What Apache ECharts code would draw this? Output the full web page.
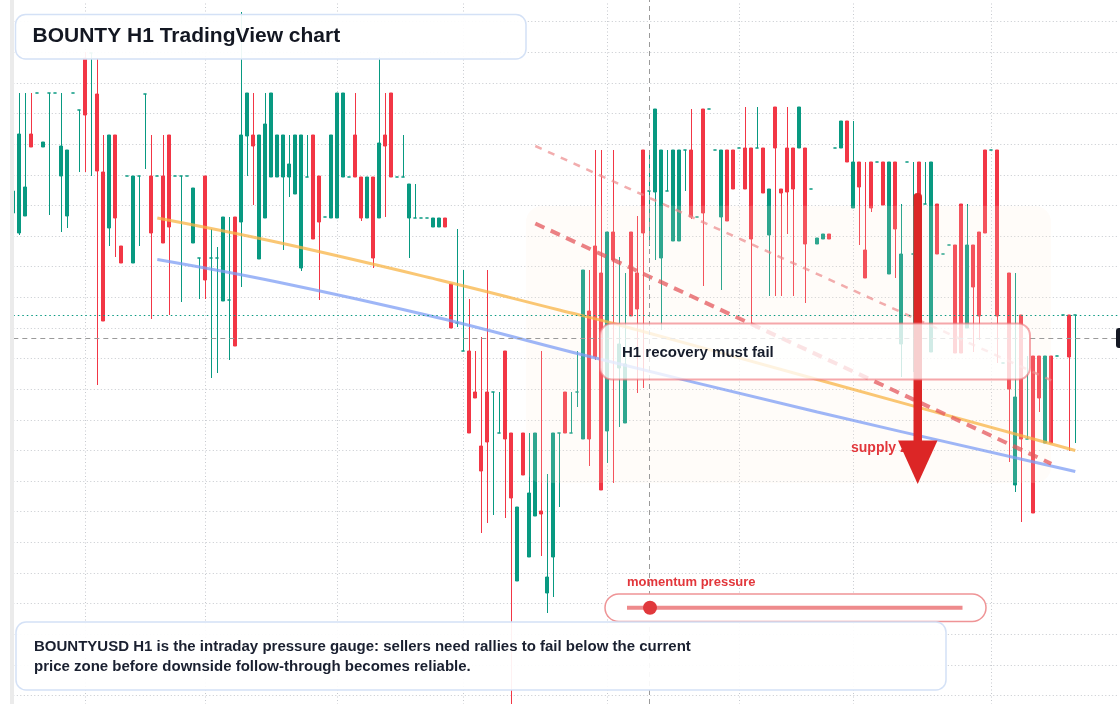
<!DOCTYPE html>
<html>
<head>
<meta charset="utf-8">
<title>BOUNTY H1</title>
<script src="https://cdn.jsdelivr.net/npm/echarts@6/dist/echarts.min.js"></script>
<style>
  html, body { margin: 0; padding: 0; background: #fff; }
  #main { width: 1120px; height: 704px; }
</style>
</head>
<body>
<div id="main"></div>
<script>
// H1 candles (open / close / low / high)
var openV = [
  513, 493, 510, 592, 633, 579, 633, 633, 550, 510,
  633, 616, 668, 673, 632, 554, 498, 591, 480, 550,
  463, 550, 632, 550, 550, 550, 591, 550, 550, 550,
  483, 468, 550, 468, 468, 425, 426, 509, 504, 590,
  591, 467, 508, 549, 549, 549, 549, 532, 458, 549,
  591, 550, 509, 508, 508, 549, 549, 591, 549, 508,
  549, 508, 591, 633, 549, 549, 508, 508, 508, 508,
  499, 499, 508, 442, 403, 375, 375, 334, 280, 334,
  334, 293, 375, 293, 145, 293, 169, 210, 215, 133,
  169, 293, 334, 293, 334, 287, 415, 480, 453, 295,
  494, 358, 303, 494, 453, 576, 535, 534, 468, 535,
  485, 485, 576, 576, 509, 617, 617, 576, 509, 576,
  576, 578, 578, 578, 578, 578, 491, 619, 537, 578,
  578, 578, 578, 537, 482, 487, 492, 578, 578, 605,
  518, 564, 476, 564, 564, 564, 452, 564, 382, 564,
  472, 564, 522, 374, 522, 472, 481, 481, 522, 398,
  481, 494, 576, 576, 576, 363, 453, 241, 411, 287,
  370, 370, 283, 370, 370, 411, 411, 411
];
var closeV = [
  535, 592, 539, 579, 633, 584, 633, 633, 580, 576,
  633, 616, 611, 673, 555, 405, 591, 508, 463, 550,
  550, 550, 632, 493, 550, 483, 499, 550, 550, 550,
  538, 468, 446, 468, 468, 509, 426, 380, 591, 633,
  580, 591, 602, 633, 591, 591, 562, 591, 591, 549,
  487, 504, 509, 591, 633, 633, 549, 549, 508, 549,
  468, 583, 580, 549, 549, 549, 542, 508, 508, 508,
  508, 508, 499, 398, 403, 375, 293, 328, 255, 284,
  334, 293, 287, 228, 219, 251, 233, 293, 212, 149,
  293, 293, 293, 293, 334, 456, 287, 369, 236, 494,
  466, 382, 362, 410, 417, 493, 535, 617, 576, 535,
  576, 576, 576, 509, 509, 513, 617, 576, 576, 505,
  537, 578, 537, 487, 578, 533, 537, 578, 533, 534,
  537, 619, 482, 537, 488, 492, 487, 578, 605, 564,
  564, 539, 448, 518, 564, 521, 564, 497, 472, 564,
  472, 472, 522, 564, 472, 472, 481, 373, 373, 481,
  439, 410, 493, 576, 410, 363, 337, 329, 287, 287,
  213, 328, 370, 283, 370, 411, 369, 411
];
var lowV = [
  513, 491, 510, 579, 633, 579, 511, 633, 494, 498,
  633, 554, 554, 550, 341, 405, 480, 469, 463, 550,
  463, 480, 557, 407, 550, 483, 411, 550, 424, 550,
  483, 427, 427, 348, 353, 425, 366, 380, 439, 550,
  521, 467, 508, 549, 549, 476, 529, 532, 455, 549,
  487, 426, 509, 508, 508, 549, 549, 549, 505, 508,
  458, 508, 509, 549, 549, 549, 468, 508, 508, 508,
  499, 499, 499, 398, 399, 375, 293, 328, 193, 203,
  211, 293, 208, 22, 145, 251, 169, 210, 170, 113,
  129, 219, 293, 293, 319, 287, 260, 366, 236, 263,
  243, 299, 303, 410, 333, 338, 480, 466, 396, 535,
  485, 485, 535, 507, 509, 440, 617, 576, 436, 505,
  537, 578, 537, 402, 578, 533, 430, 430, 430, 492,
  430, 578, 423, 537, 482, 487, 487, 578, 578, 564,
  518, 481, 448, 514, 564, 521, 452, 448, 349, 564,
  354, 472, 522, 374, 472, 472, 481, 373, 373, 398,
  374, 386, 493, 576, 363, 363, 264, 234, 204, 287,
  213, 314, 283, 283, 370, 411, 275, 283
];
var highV = [
  535, 633, 633, 633, 633, 584, 633, 633, 633, 576,
  633, 616, 674, 673, 668, 591, 591, 591, 480, 550,
  550, 550, 632, 591, 550, 591, 591, 550, 550, 550,
  538, 468, 550, 497, 479, 509, 509, 509, 714, 633,
  633, 591, 633, 633, 591, 591, 591, 591, 591, 591,
  591, 550, 509, 591, 633, 633, 549, 633, 549, 549,
  549, 669, 633, 633, 549, 591, 542, 542, 508, 508,
  508, 508, 508, 442, 497, 456, 427, 375, 389, 456,
  334, 334, 375, 293, 219, 293, 293, 293, 375, 252,
  293, 293, 334, 334, 375, 456, 456, 576, 576, 494,
  576, 469, 453, 494, 510, 576, 576, 617, 576, 576,
  576, 576, 576, 617, 509, 617, 617, 576, 576, 576,
  576, 578, 619, 578, 619, 578, 537, 619, 537, 619,
  578, 619, 578, 537, 488, 492, 492, 578, 605, 605,
  605, 564, 564, 564, 564, 564, 564, 564, 522, 564,
  564, 564, 564, 564, 522, 472, 481, 481, 522, 522,
  481, 494, 576, 576, 576, 363, 453, 453, 411, 370,
  370, 370, 370, 370, 370, 411, 411, 411
];

// bar slots (incl. empty right margin) and session separators
var slotCount = 185;
var sessionBreaks = [12, 32, 54, 75, 99, 121, 140, 163];

// drawn trend lines: [bar index, price]
var upperTrend = [[24, 508], [44, 483.7], [71, 446], [91, 416], [101, 401], [134, 346.5], [177, 275.5]];
var lowerTrend = [[24, 466.5], [44, 444], [71, 408], [93, 374], [134, 314], [177, 254.5]];
var supplyLine = [[87, 502.5], [173, 262.3]];
var supplyLineFaint = [[87, 580], [173, 345.7]];

var crossBar = 106;
var crossPrice = 387.7;
var lastPrice = 411;

var up = "#089981";
var down = "#f23645";

var categories = [];
for (var i = 0; i < slotCount; i++) categories.push(String(i));

var candleData = openV.map(function (o, i) {
  var item = { value: [o, closeV[i], lowV[i], highV[i]] };
  if (o === closeV[i]) {
    item.itemStyle = { borderColor: up, borderColor0: up, color: up, color0: up };
  }
  return item;
});

var font = '"Liberation Sans", Arial, Helvetica, sans-serif';
var gridDots = { color: "#c6c9ce", type: [1, 2.5], width: 1 };

var myChart = echarts.init(document.getElementById("main"), null, { renderer: "canvas" });

var option = {
  animation: false,
  backgroundColor: "#ffffff",
  grid: [
    { left: 13.3, right: 2.7, top: 0, bottom: 8.62 },
    // full-height grid only for the session separators and crosshair
    { left: 13.3, right: 2.7, top: 0, bottom: 0 },
  ],
  xAxis: [
    {
      type: "category",
      gridIndex: 0,
      data: categories,
      boundaryGap: false,
      axisLine: { show: false },
      axisTick: { show: false },
      axisLabel: { show: false },
      splitLine: { show: false },
    },
    {
      type: "category",
      gridIndex: 1,
      data: categories,
      boundaryGap: false,
      axisLine: { show: false },
      axisTick: { show: false },
      axisLabel: { show: false },
      splitLine: {
        show: true,
        interval: function (idx) {
          return sessionBreaks.indexOf(idx) >= 0;
        },
        lineStyle: gridDots,
      },
    },
  ],
  yAxis: [
    {
      type: "value",
      gridIndex: 0,
      position: "right",
      min: 30.62,
      max: 726,
      interval: 30.62,
      axisLine: { show: false },
      axisTick: { show: false },
      axisLabel: { show: false },
      splitLine: { lineStyle: gridDots },
    },
    {
      type: "value",
      gridIndex: 1,
      min: 0,
      max: 1,
      show: false,
      splitLine: { show: false },
    },
  ],
  series: [
    {
      name: "crosshair",
      type: "scatter",
      xAxisIndex: 1,
      yAxisIndex: 1,
      z: 2,
      symbolSize: 0,
      silent: true,
      data: [[crossBar, 0]],
      markLine: {
        silent: true,
        symbol: "none",
        label: { show: false },
        data: [{ xAxis: crossBar }],
        lineStyle: { color: "#9a9a9a", type: [5, 4], width: 1 },
      },
    },
    {
      name: "BOUNTYUSD",
      type: "candlestick",
      z: 2,
      clip: false,
      barWidth: 3.6,
      data: candleData,
      itemStyle: {
        color: up,
        color0: down,
        borderColor: up,
        borderColor0: down,
        borderColorDoji: up,
        borderWidth: 1,
      },
      markLine: {
        silent: true,
        symbol: "none",
        label: { show: false },
        data: [
          { yAxis: crossPrice, lineStyle: { color: "#9a9a9a", type: [5, 4], width: 1 } },
          { yAxis: lastPrice, lineStyle: { color: up, type: [1.5, 3], width: 1.2 } },
        ],
      },
    },
    {
      name: "upper trend",
      type: "line",
      z: 4,
      data: upperTrend,
      smooth: 0.4,
      symbol: "none",
      silent: true,
      lineStyle: { color: "#f8b445", width: 3, opacity: 0.75 },
    },
    {
      name: "lower trend",
      type: "line",
      z: 4,
      data: lowerTrend,
      smooth: 0.4,
      symbol: "none",
      silent: true,
      lineStyle: { color: "#7e9ef4", width: 3, opacity: 0.75 },
    },
    {
      name: "supply faint",
      type: "line",
      z: 4,
      data: supplyLineFaint,
      symbol: "none",
      silent: true,
      lineStyle: { color: "#ec8a8c", width: 2.5, type: [7, 7], opacity: 0.7 },
    },
    {
      name: "supply",
      type: "line",
      z: 4,
      data: supplyLine,
      symbol: "none",
      silent: true,
      lineStyle: { color: "#e4585c", width: 4, type: [10, 7], opacity: 0.75 },
    },
  ],
  graphic: [
    // left edge strip
    { type: "rect", z: 20, shape: { x: 0, y: 0, width: 10, height: 704 }, style: { fill: "#ffffff" } },
    { type: "rect", z: 20, shape: { x: 10, y: 0, width: 4, height: 704 }, style: { fill: "#ebebeb" } },
    // top edge (hides the max tick line)
    { type: "rect", z: 1, shape: { x: 14, y: 0, width: 1106, height: 1.5 }, style: { fill: "#ffffff" } },
    // crosshair price tag on the right
    { type: "rect", z: 20, shape: { x: 1116, y: 328, width: 12, height: 20, r: 3 }, style: { fill: "#131722" } },
    // soft zone overlay
    {
      type: "rect", z: 3,
      shape: { x: 526, y: 206, width: 525, height: 277, r: 16 },
      style: { fill: "rgba(255,236,218,0.16)" },
    },
    // supply zone label + arrow
    {
      type: "text", z: 6,
      style: { text: "supply zone", x: 851, y: 448, fill: "#e2363b", font: "bold 14px " + font, verticalAlign: "middle" },
    },
    {
      type: "rect", z: 7,
      shape: { x: 913.5, y: 193, width: 8.5, height: 250, r: [4, 4, 0, 0] },
      style: { fill: "#dc2626" },
    },
    {
      type: "polygon", z: 7,
      shape: { points: [[898, 440.5], [937.5, 440.5], [917.7, 484]] },
      style: { fill: "#dc2626" },
    },
    // annotation box
    {
      type: "rect", z: 8,
      shape: { x: 600, y: 323.5, width: 430, height: 56, r: 12 },
      style: { fill: "rgba(255,255,255,0.78)", stroke: "rgba(238,110,116,0.6)", lineWidth: 2 },
    },
    {
      type: "text", z: 9,
      style: { text: "H1 recovery must fail", x: 622, y: 353, fill: "#161c2b", font: "bold 15px " + font, verticalAlign: "middle" },
    },
    // title
    {
      type: "rect", z: 10,
      shape: { x: 15.5, y: 14.5, width: 510.5, height: 44.5, r: 10 },
      style: { fill: "rgba(255,255,255,0.93)", stroke: "#d4e1f6", lineWidth: 1.5 },
    },
    {
      type: "text", z: 11,
      style: { text: "BOUNTY H1 TradingView chart", x: 32.5, y: 36.5, fill: "#131722", font: "bold 21px " + font, verticalAlign: "middle" },
    },
    // momentum widget
    {
      type: "text", z: 10,
      style: { text: "momentum pressure", x: 627, y: 582.5, fill: "#e2363b", font: "bold 13px " + font, verticalAlign: "middle" },
    },
    {
      type: "rect", z: 10,
      shape: { x: 605, y: 594, width: 381, height: 27.5, r: 13.75 },
      style: { fill: "#ffffff", stroke: "#ef9496", lineWidth: 1.5 },
    },
    {
      type: "line", z: 11,
      shape: { x1: 627, y1: 607.7, x2: 962.5, y2: 607.7 },
      style: { stroke: "#ee8a8c", lineWidth: 4 },
    },
    {
      type: "circle", z: 12,
      shape: { cx: 650, cy: 607.7, r: 7 },
      style: { fill: "#e0383c" },
    },
    // bottom note
    {
      type: "rect", z: 10,
      shape: { x: 16, y: 622, width: 930, height: 68, r: 10 },
      style: { fill: "rgba(255,255,255,0.93)", stroke: "#d4e1f6", lineWidth: 1.5 },
    },
    {
      type: "text", z: 11,
      style: {
        text: "BOUNTYUSD H1 is the intraday pressure gauge: sellers need rallies to fail below the current\nprice zone before downside follow-through becomes reliable.",
        x: 34, y: 657, fill: "#1a2030", font: "bold 15px " + font, lineHeight: 20, verticalAlign: "middle",
      },
    },
  ],
};

if (option && typeof option === "object") {
  myChart.setOption(option);
}
window.addEventListener("resize", myChart.resize);
</script>
</body>
</html>
